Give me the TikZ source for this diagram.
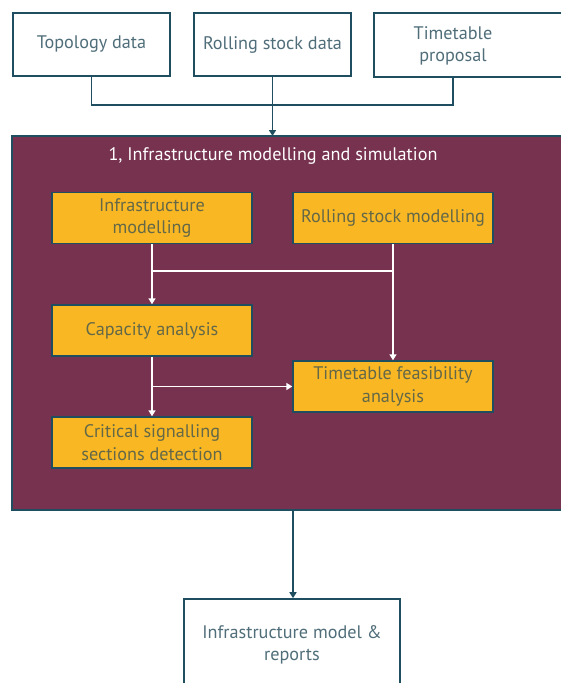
\documentclass[tikz,border=0pt]{standalone}
\usepackage{fontspec}
\setmainfont{PT Sans}
\usetikzlibrary{arrows.meta}
\definecolor{edge}{RGB}{30,78,95}
\definecolor{greytext}{RGB}{80,110,122}
\definecolor{olivetext}{RGB}{100,104,72}
\definecolor{maroon}{RGB}{119,50,79}
\definecolor{amber}{RGB}{249,184,35}
\tikzset{
  boxfont/.style={font=\fontsize{18.2}{22.5}\selectfont},
  inbox/.style={draw=edge, line width=1.6pt, fill=white, text=greytext,
    minimum width=157pt, minimum height=63pt, align=center, inner sep=0pt,
    boxfont},
  stepbox/.style={draw=edge, line width=1.4pt, fill=amber, text=olivetext,
    minimum width=200pt, minimum height=51pt, align=center, inner sep=0pt,
    boxfont},
  darkline/.style={draw=edge, line width=1.6pt},
  darkarrow/.style={darkline, -{Triangle[width=7pt,length=6pt]}},
  whiteline/.style={draw=white, line width=1.4pt},
  whitearrow/.style={whiteline, -{Triangle[width=7pt,length=6pt]}}
}
\begin{document}
\begin{tikzpicture}[x=1pt,y=-1pt]
\useasboundingbox (0,0) rectangle (561,683);
\clip (0,0) rectangle (561,683);

% input data
\node[inbox] (topo) at (91.5,44.5) {Topology data};
\node[inbox] (rsd) at (272.5,44.5) {Rolling stock data};
\draw[edge, line width=1.6pt, fill=white] (374,13) rectangle (620,77);
\node[inbox, draw=none, fill=none, minimum width=150pt] (ttp) at (453,46)
  {Timetable\\proposal};
\coordinate (ttpb) at (453,77);

% simulation block
\draw[edge, line width=1.6pt, fill=maroon] (12,136) rectangle (620,510);
\coordinate (simtop) at (272.5,136);
\coordinate (simbot) at (293,510);
\node[text=white, boxfont] (title) at (273,156)
  {1, Infrastructure modelling and simulation};

\node[stepbox] (infra) at (152,218) {Infrastructure\\modelling};
\node[stepbox] (rsm) at (393,218) {Rolling stock modelling};
\node[stepbox] (cap) at (152,330.5) {Capacity analysis};
\node[stepbox] (tf) at (393,386.5) {Timetable feasibility\\analysis};
\node[stepbox] (crit) at (152,442.5) {Critical signalling\\sections detection};

% output
\node[inbox, minimum width=216pt, minimum height=92pt] (out) at (292,645)
  {Infrastructure model \&\\reports};

% input connectors
\coordinate (jin) at (91.5,105);
\coordinate (jin2) at (453,105);
\draw[darkline] (topo.south) -- (jin) -- (jin2) -- (ttpb);
\draw[darkarrow] (rsd.south) -- (simtop);

% internal connectors
\coordinate (ja) at (152,271);
\coordinate (jb) at (393,271);
\coordinate (jc) at (152,386.5);
\draw[whiteline] (rsm.south) -- (jb) -- (ja);
\draw[whitearrow] (infra.south) -- (cap.north);
\draw[whitearrow] (rsm.south) -- (tf.north);
\draw[whitearrow] (cap.south) -- (crit.north);
\draw[whitearrow] (jc) -- (tf.west);

% output connector
\draw[darkarrow] (simbot) -- (out.north -| simbot);
\end{tikzpicture}
\end{document}
